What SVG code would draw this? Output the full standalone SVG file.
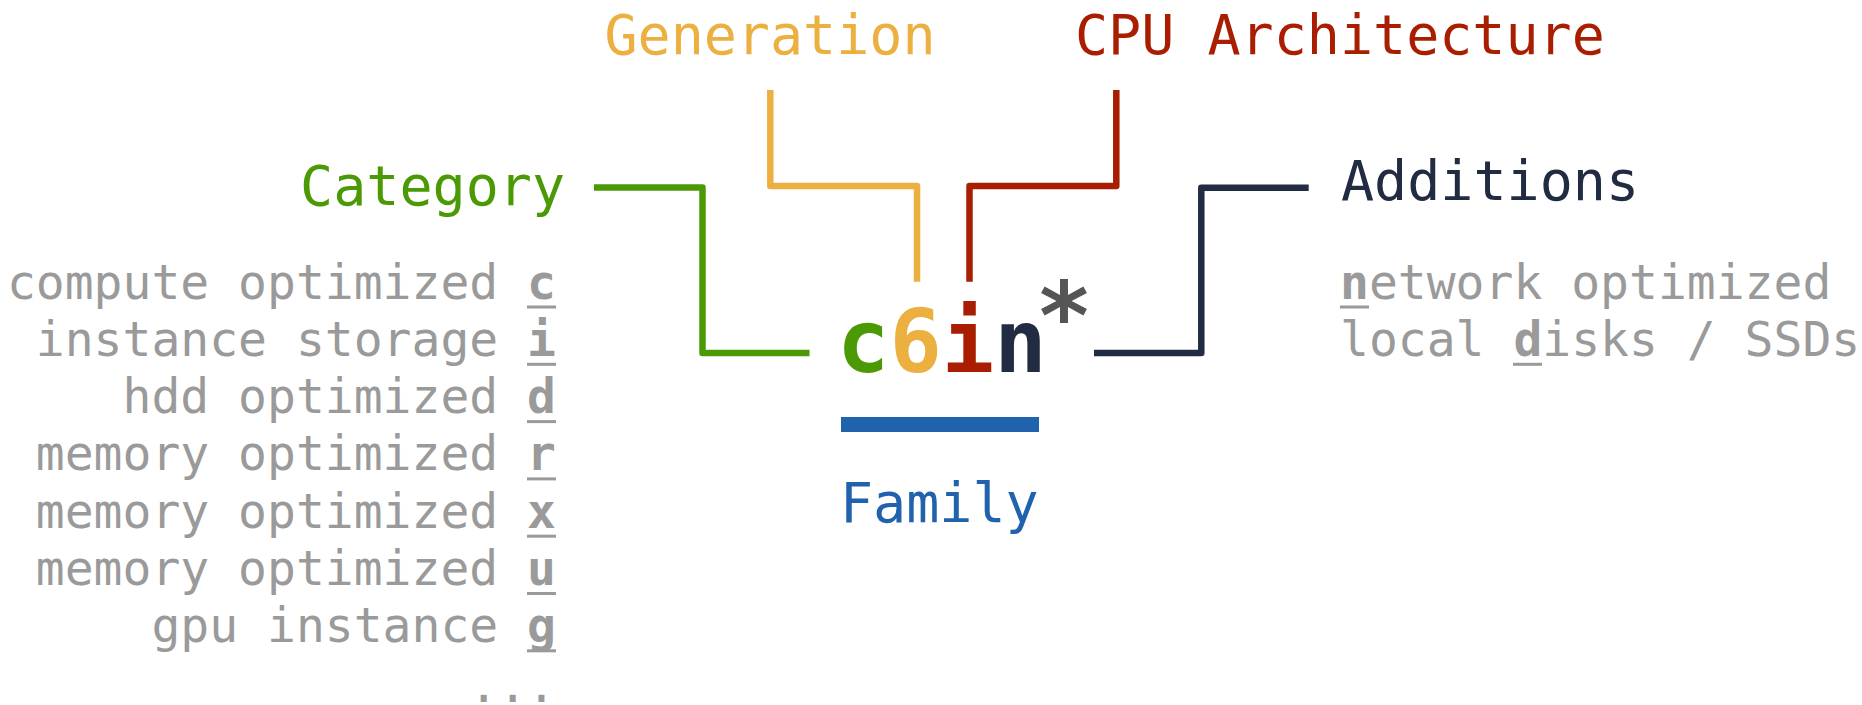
<svg xmlns="http://www.w3.org/2000/svg" width="1862" height="705" viewBox="0 0 1862 705">
<style>
  .mono { font-family: "DejaVu Sans Mono", "Liberation Mono", monospace; }
  .label { font-size: 55px; }
  .desc { font-size: 48px; fill: #9a9a9a; }
  .desc .k { font-weight: bold; }
  .ul { fill: #9a9a9a; }
  .conn { fill: none; stroke-width: 6.5; stroke-linejoin: round; stroke-linecap: butt; }
</style>
<rect width="1862" height="705" fill="#ffffff"/>

<g id="connectors">
  <path class="conn" stroke="#4b9a05" d="M594,187.5 H702.5 V353 H809.5"/>
  <path class="conn" stroke="#ebb040" d="M770.3,90 V186 H917 V281.7"/>
  <path class="conn" stroke="#a91e00" d="M1116.3,90 V186 H969.5 V281.7"/>
  <path class="conn" stroke="#212b42" d="M1094,353 H1201.3 V187.8 H1308.7"/>
</g>

<g id="node-generation">
  <text class="mono label" x="770" y="54" text-anchor="middle" fill="#ebb040">Generation</text>
</g>

<g id="node-cpu">
  <text class="mono label" x="1075" y="54" fill="#a91e00">CPU Architecture</text>
</g>

<g id="node-category">
  <text class="mono label" x="565" y="205" text-anchor="end" fill="#4b9a05">Category</text>
  <g class="mono desc">
    <text x="556" y="298.5" text-anchor="end">compute optimized <tspan class="k">c</tspan></text>
    <text x="556" y="355.8" text-anchor="end">instance storage <tspan class="k">i</tspan></text>
    <text x="556" y="413.1" text-anchor="end">hdd optimized <tspan class="k">d</tspan></text>
    <text x="556" y="470.4" text-anchor="end">memory optimized <tspan class="k">r</tspan></text>
    <text x="556" y="527.7" text-anchor="end">memory optimized <tspan class="k">x</tspan></text>
    <text x="556" y="585" text-anchor="end">memory optimized <tspan class="k">u</tspan></text>
    <text x="556" y="642.3" text-anchor="end">gpu instance <tspan class="k">g</tspan></text>
    <text x="556" y="701.5" text-anchor="end">...</text>
  </g>
  <g class="ul">
    <rect x="527" y="305.5" width="29" height="3"/>
    <rect x="527" y="362.8" width="29" height="3"/>
    <rect x="527" y="420.1" width="29" height="3"/>
    <rect x="527" y="477.4" width="29" height="3"/>
    <rect x="527" y="534.7" width="29" height="3"/>
    <rect x="527" y="592" width="29" height="3"/>
    <rect x="527" y="649.3" width="29" height="3"/>
  </g>
</g>

<g id="node-instance">
  <text class="mono" x="837" y="371.7" font-size="87" font-weight="bold"><tspan fill="#4b9a05">c</tspan><tspan fill="#ebb040">6</tspan><tspan fill="#a91e00">i</tspan><tspan fill="#212b42">n</tspan><tspan fill="#555555" font-size="95" dx="-11" dy="-23.2">*</tspan></text>
</g>

<g id="node-family">
  <rect x="841" y="417" width="198" height="15" fill="#2162ad"/>
  <text class="mono label" x="840" y="521.7" fill="#2162ad">Family</text>
</g>

<g id="node-additions">
  <text class="mono label" x="1341" y="200" fill="#212b42">Additions</text>
  <g class="mono desc">
    <text x="1340" y="298.5"><tspan class="k">n</tspan>etwork optimized</text>
    <text x="1340" y="355.8">local <tspan class="k">d</tspan>isks / SSDs</text>
  </g>
  <g class="ul">
    <rect x="1340" y="305.5" width="29" height="3"/>
    <rect x="1513" y="362.8" width="29" height="3"/>
  </g>
</g>
</svg>
